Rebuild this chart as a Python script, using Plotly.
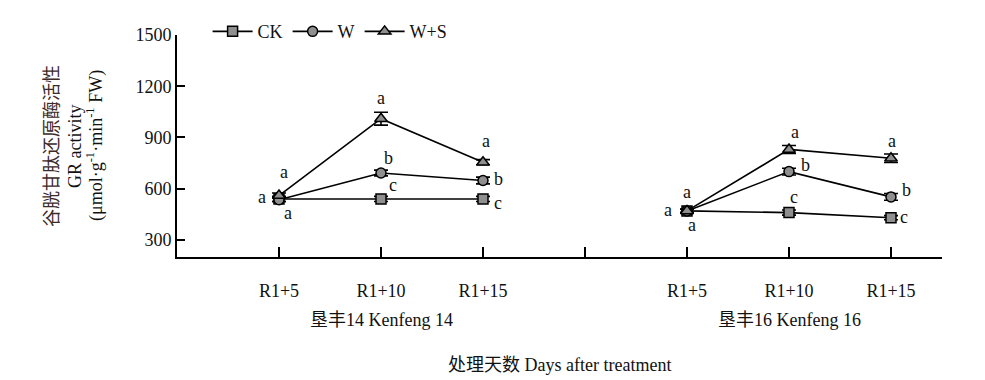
import plotly.graph_objects as go

# ---- data ----
days = ["R1+5", "R1+10", "R1+15"]
cultivars = ["垦丰14 Kenfeng 14", "垦丰16 Kenfeng 16"]
series_names = ["CK", "W", "W+S"]

# values per series: Kenfeng14 (3 days) then Kenfeng16 (3 days)
ck_vals = [540, 540, 540, 470, 460, 430]
w_vals = [535, 692, 648, 470, 700, 552]
ws_vals = [560, 1010, 755, 470, 830, 778]

ck_err = [15, 15, 15, 10, 15, 12]
w_err = [10, 17, 20, 10, 20, 20]
ws_err = [15, 38, 15, 10, 23, 25]

ck_letters = ["a", "c", "c", "a", "c", "c"]
w_letters = ["a", "b", "b", "a", "b", "b"]
ws_letters = ["a", "a", "a", "a", "a", "a"]

y_ticks = [300, 600, 900, 1200, 1500]

# ---- styles / layout helpers ----
FONT = "Liberation Serif, Times New Roman, Noto Sans CJK SC, serif"
TXT = "#111111"
FILL = "#8f8f8f"

# x positions on the linear axis: each cultivar occupies 3 slots, with a blank slot between
group_start = [1, 5]
xpos = [g + i for g in group_start for i in range(len(days))]
tick_text = days + days
separator_tick = [4]

# letter offsets (pixels) per series & point
ck_off = [(-17, 2), (12, 14), (15, -4), (-19, 1), (5, 16), (13, 1)]
w_off = [(9, -13), (7, 15), (15, 2), (5, -14), (16, 7), (15, 7)]
ws_off = [(5, 24), (0, 21), (3, 21), (0, 19), (6, 17), (1, 17)]

symbols = ["square", "circle", "triangle-up"]
sizes = [10, 10, 11]
all_vals = [ck_vals, w_vals, ws_vals]
all_err = [ck_err, w_err, ws_err]
all_letters = [ck_letters, w_letters, ws_letters]
all_off = [ck_off, w_off, ws_off]

fig = go.Figure()

for name, vals, err, sym, sz in zip(series_names, all_vals, all_err, symbols, sizes):
    # insert a gap between the two cultivars
    xs = xpos[:3] + [None] + xpos[3:]
    ys = vals[:3] + [None] + vals[3:]
    es = err[:3] + [None] + err[3:]
    fig.add_trace(go.Scatter(
        x=xs, y=ys, name=name, mode="lines+markers",
        connectgaps=False,
        line=dict(color="black", width=1.6),
        marker=dict(symbol=sym, size=sz, color=FILL, line=dict(color="black", width=1.5)),
        error_y=dict(type="data", array=es, visible=True, color="black", thickness=1.6, width=7),
    ))

annotations = []
for vals, letters, offs in zip(all_vals, all_letters, all_off):
    for x, v, lt, (dx, dy) in zip(xpos, vals, letters, offs):
        annotations.append(dict(
            x=x, y=v, xref="x", yref="y", text=lt, showarrow=False,
            xshift=dx, yshift=dy, font=dict(family=FONT, size=18, color=TXT),
        ))

# cultivar group labels
for g, label in zip(group_start, cultivars):
    annotations.append(dict(
        x=g + 1, y=-0.284, xref="x", yref="paper", text=label, showarrow=False,
        yanchor="middle", font=dict(family=FONT, size=18, color=TXT),
    ))

# x-axis title
annotations.append(dict(
    x=0.5, y=-0.486, xref="paper", yref="paper", text="处理天数 Days after treatment",
    showarrow=False, yanchor="middle", font=dict(family=FONT, size=18, color=TXT),
))

# y-axis title (three rotated lines)
y_title_lines = [
    ("谷胱甘肽还原酶活性", "#3d2b2b", -125),
    ("GR activity", TXT, -102),
    ("(μmol·g<sup>-1</sup>·min<sup>-1</sup> FW)", TXT, -82),
]
for txt, col, px in y_title_lines:
    annotations.append(dict(
        x=0, y=0.5, xref="paper", yref="paper", text=txt, showarrow=False,
        textangle=-90, xshift=px, xanchor="center", yanchor="middle",
        font=dict(family=FONT, size=18, color=col),
    ))

fig.update_layout(
    width=985, height=380,
    margin=dict(l=177, r=43, t=35, b=123, autoexpand=False),
    paper_bgcolor="white", plot_bgcolor="white",
    font=dict(family=FONT, size=18, color=TXT),
    showlegend=True,
    legend=dict(
        orientation="h", x=0.04, y=1.015, xanchor="left", yanchor="middle",
        font=dict(family=FONT, size=18, color=TXT), bgcolor="rgba(0,0,0,0)",
        itemwidth=40, tracegroupgap=0,
    ),
    annotations=annotations,
    xaxis=dict(
        range=[0, 7.5], tickvals=xpos, ticktext=tick_text,
        showline=True, linecolor="black", linewidth=2,
        ticks="inside", ticklen=10, tickwidth=2, tickcolor="black",
        minor=dict(tickvals=separator_tick, ticks="inside", ticklen=10, tickwidth=2,
                   tickcolor="black", showgrid=False),
        showgrid=False, zeroline=False,
        tickfont=dict(family=FONT, size=18, color=TXT),
        ticklabelstandoff=16,
    ),
    yaxis=dict(
        range=[200, 1500], tickvals=y_ticks,
        showline=True, linecolor="black", linewidth=2,
        ticks="inside", ticklen=8, tickwidth=2, tickcolor="black",
        showgrid=False, zeroline=False,
        tickfont=dict(family=FONT, size=18, color=TXT),
    ),
)

fig.write_html(
    "out.html",
    config={"displayModeBar": False},
    post_script="document.body.style.margin='0px';document.body.style.padding='0px';",
)
